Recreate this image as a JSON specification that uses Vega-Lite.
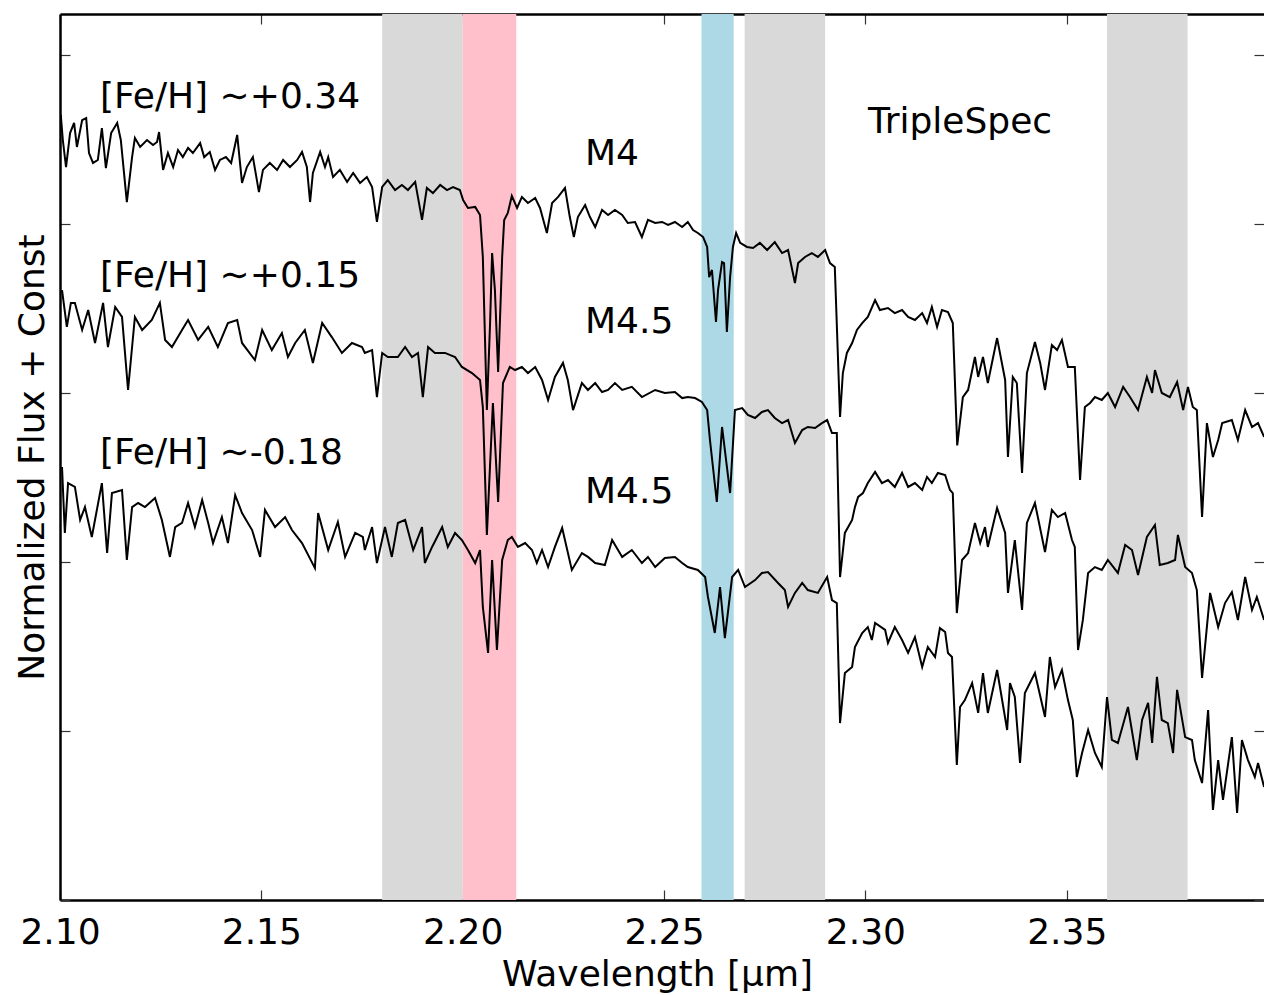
{
"$schema": "https://vega.github.io/schema/vega-lite/v6.json",
"width": 1204, "height": 886,
"autosize": "none",
"padding": {"left": 60, "top": 14, "right": 0, "bottom": 95},
"background": "white",
"config": {"font": "DejaVu Sans", "view": {"stroke": null},
 "axis": {"grid": false, "domainColor": "black", "domainWidth": 2.5, "tickColor": "#333333", "tickWidth": 1.2, "tickSize": -10, "labelFlush": false,
  "labelFont": "DejaVu Sans", "titleFont": "DejaVu Sans", "labelFontSize": 36, "titleFontSize": 36, "labelColor": "black", "titleColor": "black", "titleFontWeight": "normal"}},
"datasets": {
"bands": [
 {"kind": "telluric", "x0": 2.18, "x1": 2.20},
 {"kind": "Na", "x0": 2.20, "x1": 2.2133},
 {"kind": "Ca", "x0": 2.2593, "x1": 2.2673},
 {"kind": "telluric", "x0": 2.27, "x1": 2.29},
 {"kind": "telluric", "x0": 2.36, "x1": 2.38}
],
"notes": [
 {"t": "[Fe/H] ∼+0.34", "x": 2.10993, "y": 4.686},
 {"t": "[Fe/H] ∼+0.15", "x": 2.10993, "y": 3.627},
 {"t": "[Fe/H] ∼-0.18", "x": 2.10993, "y": 2.580},
 {"t": "M4", "x": 2.23037, "y": 4.349},
 {"t": "M4.5", "x": 2.23037, "y": 3.355},
 {"t": "M4.5", "x": 2.23037, "y": 2.349},
 {"t": "TripleSpec", "x": 2.30064, "y": 4.538}
],
"spec": [
{"s":"a","x":2.1002,"y":4.645},{"s":"a","x":2.1007,"y":4.497},{"s":"a","x":2.1015,"y":4.337},{"s":"a","x":2.1025,"y":4.538},{"s":"a","x":2.1035,"y":4.598},{"s":"a","x":2.1042,"y":4.456},{"s":"a","x":2.1055,"y":4.615},{"s":"a","x":2.1065,"y":4.627},{"s":"a","x":2.1072,"y":4.420},{"s":"a","x":2.1082,"y":4.361},{"s":"a","x":2.1094,"y":4.379},{"s":"a","x":2.1104,"y":4.568},{"s":"a","x":2.1114,"y":4.331},{"s":"a","x":2.1127,"y":4.538},{"s":"a","x":2.1142,"y":4.598},{"s":"a","x":2.1151,"y":4.497},{"s":"a","x":2.1166,"y":4.130},{"s":"a","x":2.1179,"y":4.396},{"s":"a","x":2.1186,"y":4.509},{"s":"a","x":2.1199,"y":4.456},{"s":"a","x":2.1216,"y":4.497},{"s":"a","x":2.1231,"y":4.467},{"s":"a","x":2.1241,"y":4.485},{"s":"a","x":2.1246,"y":4.544},{"s":"a","x":2.1256,"y":4.320},{"s":"a","x":2.1268,"y":4.420},{"s":"a","x":2.1281,"y":4.337},{"s":"a","x":2.1293,"y":4.438},{"s":"a","x":2.1305,"y":4.396},{"s":"a","x":2.1318,"y":4.450},{"s":"a","x":2.1330,"y":4.420},{"s":"a","x":2.1348,"y":4.479},{"s":"a","x":2.1358,"y":4.396},{"s":"a","x":2.1372,"y":4.426},{"s":"a","x":2.1385,"y":4.320},{"s":"a","x":2.1397,"y":4.379},{"s":"a","x":2.1412,"y":4.396},{"s":"a","x":2.1425,"y":4.361},{"s":"a","x":2.1440,"y":4.527},{"s":"a","x":2.1452,"y":4.243},{"s":"a","x":2.1464,"y":4.337},{"s":"a","x":2.1479,"y":4.396},{"s":"a","x":2.1494,"y":4.189},{"s":"a","x":2.1504,"y":4.320},{"s":"a","x":2.1521,"y":4.361},{"s":"a","x":2.1539,"y":4.320},{"s":"a","x":2.1554,"y":4.379},{"s":"a","x":2.1571,"y":4.337},{"s":"a","x":2.1589,"y":4.379},{"s":"a","x":2.1601,"y":4.426},{"s":"a","x":2.1613,"y":4.337},{"s":"a","x":2.1621,"y":4.130},{"s":"a","x":2.1628,"y":4.302},{"s":"a","x":2.1646,"y":4.426},{"s":"a","x":2.1658,"y":4.337},{"s":"a","x":2.1666,"y":4.396},{"s":"a","x":2.1678,"y":4.278},{"s":"a","x":2.1695,"y":4.320},{"s":"a","x":2.1713,"y":4.249},{"s":"a","x":2.1728,"y":4.302},{"s":"a","x":2.1745,"y":4.243},{"s":"a","x":2.1762,"y":4.278},{"s":"a","x":2.1775,"y":4.219},{"s":"a","x":2.1787,"y":4.012},{"s":"a","x":2.1800,"y":4.219},{"s":"a","x":2.1814,"y":4.260},{"s":"a","x":2.1832,"y":4.201},{"s":"a","x":2.1849,"y":4.231},{"s":"a","x":2.1864,"y":4.201},{"s":"a","x":2.1882,"y":4.249},{"s":"a","x":2.1899,"y":4.024},{"s":"a","x":2.1911,"y":4.213},{"s":"a","x":2.1926,"y":4.183},{"s":"a","x":2.1944,"y":4.231},{"s":"a","x":2.1961,"y":4.201},{"s":"a","x":2.1976,"y":4.219},{"s":"a","x":2.1993,"y":4.201},{"s":"a","x":2.2001,"y":4.142},{"s":"a","x":2.2013,"y":4.095},{"s":"a","x":2.2031,"y":4.101},{"s":"a","x":2.2043,"y":4.053},{"s":"a","x":2.2050,"y":3.805},{"s":"a","x":2.2060,"y":2.899},{"s":"a","x":2.2068,"y":3.414},{"s":"a","x":2.2073,"y":3.828},{"s":"a","x":2.2080,"y":3.609},{"s":"a","x":2.2088,"y":3.124},{"s":"a","x":2.2098,"y":3.805},{"s":"a","x":2.2103,"y":4.024},{"s":"a","x":2.2112,"y":4.065},{"s":"a","x":2.2122,"y":4.166},{"s":"a","x":2.2135,"y":4.095},{"s":"a","x":2.2147,"y":4.160},{"s":"a","x":2.2162,"y":4.124},{"s":"a","x":2.2180,"y":4.154},{"s":"a","x":2.2192,"y":4.095},{"s":"a","x":2.2209,"y":3.947},{"s":"a","x":2.2222,"y":4.124},{"s":"a","x":2.2237,"y":4.160},{"s":"a","x":2.2254,"y":4.213},{"s":"a","x":2.2266,"y":4.041},{"s":"a","x":2.2276,"y":3.923},{"s":"a","x":2.2286,"y":4.041},{"s":"a","x":2.2304,"y":4.112},{"s":"a","x":2.2316,"y":4.041},{"s":"a","x":2.2329,"y":3.982},{"s":"a","x":2.2346,"y":4.083},{"s":"a","x":2.2361,"y":4.053},{"s":"a","x":2.2378,"y":4.083},{"s":"a","x":2.2396,"y":4.053},{"s":"a","x":2.2410,"y":4.006},{"s":"a","x":2.2428,"y":4.012},{"s":"a","x":2.2445,"y":3.923},{"s":"a","x":2.2460,"y":4.024},{"s":"a","x":2.2478,"y":4.006},{"s":"a","x":2.2495,"y":4.012},{"s":"a","x":2.2510,"y":3.994},{"s":"a","x":2.2527,"y":4.012},{"s":"a","x":2.2545,"y":3.982},{"s":"a","x":2.2559,"y":4.012},{"s":"a","x":2.2572,"y":3.964},{"s":"a","x":2.2584,"y":3.947},{"s":"a","x":2.2597,"y":3.923},{"s":"a","x":2.2607,"y":3.864},{"s":"a","x":2.2612,"y":3.686},{"s":"a","x":2.2619,"y":3.728},{"s":"a","x":2.2629,"y":3.420},{"s":"a","x":2.2634,"y":3.609},{"s":"a","x":2.2644,"y":3.775},{"s":"a","x":2.2649,"y":3.769},{"s":"a","x":2.2656,"y":3.361},{"s":"a","x":2.2664,"y":3.686},{"s":"a","x":2.2671,"y":3.864},{"s":"a","x":2.2679,"y":3.947},{"s":"a","x":2.2689,"y":3.888},{"s":"a","x":2.2706,"y":3.864},{"s":"a","x":2.2721,"y":3.858},{"s":"a","x":2.2738,"y":3.888},{"s":"a","x":2.2756,"y":3.846},{"s":"a","x":2.2775,"y":3.893},{"s":"a","x":2.2793,"y":3.828},{"s":"a","x":2.2808,"y":3.846},{"s":"a","x":2.2825,"y":3.651},{"s":"a","x":2.2833,"y":3.769},{"s":"a","x":2.2850,"y":3.805},{"s":"a","x":2.2867,"y":3.828},{"s":"a","x":2.2882,"y":3.805},{"s":"a","x":2.2900,"y":3.846},{"s":"a","x":2.2912,"y":3.769},{"s":"a","x":2.2924,"y":3.746},{"s":"a","x":2.2937,"y":2.858},{"s":"a","x":2.2944,"y":3.118},{"s":"a","x":2.2954,"y":3.237},{"s":"a","x":2.2967,"y":3.296},{"s":"a","x":2.2979,"y":3.373},{"s":"a","x":2.2992,"y":3.414},{"s":"a","x":2.3006,"y":3.450},{"s":"a","x":2.3024,"y":3.550},{"s":"a","x":2.3036,"y":3.491},{"s":"a","x":2.3056,"y":3.503},{"s":"a","x":2.3073,"y":3.473},{"s":"a","x":2.3091,"y":3.491},{"s":"a","x":2.3106,"y":3.450},{"s":"a","x":2.3123,"y":3.432},{"s":"a","x":2.3141,"y":3.473},{"s":"a","x":2.3153,"y":3.414},{"s":"a","x":2.3165,"y":3.509},{"s":"a","x":2.3178,"y":3.391},{"s":"a","x":2.3190,"y":3.491},{"s":"a","x":2.3205,"y":3.479},{"s":"a","x":2.3217,"y":3.414},{"s":"a","x":2.3228,"y":2.690},{"s":"a","x":2.3242,"y":2.976},{"s":"a","x":2.3255,"y":3.018},{"s":"a","x":2.3272,"y":3.213},{"s":"a","x":2.3280,"y":3.095},{"s":"a","x":2.3292,"y":3.213},{"s":"a","x":2.3304,"y":3.059},{"s":"a","x":2.3327,"y":3.325},{"s":"a","x":2.3347,"y":3.077},{"s":"a","x":2.3354,"y":2.621},{"s":"a","x":2.3366,"y":3.095},{"s":"a","x":2.3376,"y":3.059},{"s":"a","x":2.3389,"y":2.527},{"s":"a","x":2.3401,"y":3.118},{"s":"a","x":2.3421,"y":3.302},{"s":"a","x":2.3434,"y":3.178},{"s":"a","x":2.3446,"y":3.018},{"s":"a","x":2.3463,"y":3.284},{"s":"a","x":2.3476,"y":3.254},{"s":"a","x":2.3488,"y":3.314},{"s":"a","x":2.3503,"y":3.154},{"s":"a","x":2.3520,"y":3.154},{"s":"a","x":2.3533,"y":2.485},{"s":"a","x":2.3545,"y":2.917},{"s":"a","x":2.3558,"y":2.941},{"s":"a","x":2.3570,"y":2.976},{"s":"a","x":2.3587,"y":2.959},{"s":"a","x":2.3602,"y":3.000},{"s":"a","x":2.3620,"y":2.917},{"s":"a","x":2.3640,"y":3.036},{"s":"a","x":2.3657,"y":2.976},{"s":"a","x":2.3677,"y":2.899},{"s":"a","x":2.3699,"y":3.095},{"s":"a","x":2.3712,"y":3.000},{"s":"a","x":2.3719,"y":3.136},{"s":"a","x":2.3736,"y":3.000},{"s":"a","x":2.3756,"y":2.976},{"s":"a","x":2.3774,"y":3.065},{"s":"a","x":2.3789,"y":2.899},{"s":"a","x":2.3801,"y":3.036},{"s":"a","x":2.3813,"y":2.917},{"s":"a","x":2.3823,"y":2.899},{"s":"a","x":2.3836,"y":2.266},{"s":"a","x":2.3848,"y":2.822},{"s":"a","x":2.3863,"y":2.621},{"s":"a","x":2.3876,"y":2.722},{"s":"a","x":2.3886,"y":2.822},{"s":"a","x":2.3910,"y":2.840},{"s":"a","x":2.3925,"y":2.722},{"s":"a","x":2.3943,"y":2.899},{"s":"a","x":2.3960,"y":2.799},{"s":"a","x":2.3975,"y":2.822},{"s":"a","x":2.3990,"y":2.740},
{"s":"b","x":2.1005,"y":3.609},{"s":"b","x":2.1017,"y":3.391},{"s":"b","x":2.1027,"y":3.533},{"s":"b","x":2.1037,"y":3.533},{"s":"b","x":2.1055,"y":3.373},{"s":"b","x":2.1070,"y":3.491},{"s":"b","x":2.1087,"y":3.296},{"s":"b","x":2.1107,"y":3.533},{"s":"b","x":2.1119,"y":3.272},{"s":"b","x":2.1137,"y":3.509},{"s":"b","x":2.1154,"y":3.450},{"s":"b","x":2.1169,"y":3.018},{"s":"b","x":2.1186,"y":3.450},{"s":"b","x":2.1204,"y":3.373},{"s":"b","x":2.1228,"y":3.432},{"s":"b","x":2.1248,"y":3.533},{"s":"b","x":2.1261,"y":3.314},{"s":"b","x":2.1278,"y":3.272},{"s":"b","x":2.1303,"y":3.373},{"s":"b","x":2.1318,"y":3.432},{"s":"b","x":2.1343,"y":3.314},{"s":"b","x":2.1368,"y":3.391},{"s":"b","x":2.1392,"y":3.272},{"s":"b","x":2.1417,"y":3.414},{"s":"b","x":2.1440,"y":3.432},{"s":"b","x":2.1452,"y":3.296},{"s":"b","x":2.1484,"y":3.195},{"s":"b","x":2.1502,"y":3.373},{"s":"b","x":2.1526,"y":3.254},{"s":"b","x":2.1551,"y":3.355},{"s":"b","x":2.1566,"y":3.213},{"s":"b","x":2.1584,"y":3.296},{"s":"b","x":2.1608,"y":3.373},{"s":"b","x":2.1628,"y":3.178},{"s":"b","x":2.1651,"y":3.414},{"s":"b","x":2.1675,"y":3.331},{"s":"b","x":2.1700,"y":3.237},{"s":"b","x":2.1725,"y":3.296},{"s":"b","x":2.1750,"y":3.272},{"s":"b","x":2.1757,"y":3.237},{"s":"b","x":2.1775,"y":3.254},{"s":"b","x":2.1787,"y":2.976},{"s":"b","x":2.1800,"y":3.237},{"s":"b","x":2.1814,"y":3.213},{"s":"b","x":2.1839,"y":3.213},{"s":"b","x":2.1857,"y":3.272},{"s":"b","x":2.1874,"y":3.213},{"s":"b","x":2.1889,"y":3.237},{"s":"b","x":2.1901,"y":2.976},{"s":"b","x":2.1914,"y":3.272},{"s":"b","x":2.1931,"y":3.237},{"s":"b","x":2.1956,"y":3.237},{"s":"b","x":2.1981,"y":3.213},{"s":"b","x":2.1998,"y":3.154},{"s":"b","x":2.2023,"y":3.118},{"s":"b","x":2.2043,"y":3.077},{"s":"b","x":2.2050,"y":2.917},{"s":"b","x":2.2060,"y":2.160},{"s":"b","x":2.2075,"y":2.941},{"s":"b","x":2.2088,"y":2.355},{"s":"b","x":2.2100,"y":3.059},{"s":"b","x":2.2117,"y":3.154},{"s":"b","x":2.2130,"y":3.136},{"s":"b","x":2.2147,"y":3.154},{"s":"b","x":2.2162,"y":3.118},{"s":"b","x":2.2180,"y":3.154},{"s":"b","x":2.2197,"y":3.077},{"s":"b","x":2.2212,"y":2.959},{"s":"b","x":2.2229,"y":3.095},{"s":"b","x":2.2249,"y":3.178},{"s":"b","x":2.2261,"y":3.077},{"s":"b","x":2.2274,"y":2.899},{"s":"b","x":2.2296,"y":3.059},{"s":"b","x":2.2311,"y":3.018},{"s":"b","x":2.2329,"y":3.059},{"s":"b","x":2.2346,"y":3.006},{"s":"b","x":2.2361,"y":3.018},{"s":"b","x":2.2378,"y":3.059},{"s":"b","x":2.2396,"y":3.018},{"s":"b","x":2.2420,"y":3.036},{"s":"b","x":2.2445,"y":2.976},{"s":"b","x":2.2478,"y":3.018},{"s":"b","x":2.2502,"y":3.000},{"s":"b","x":2.2527,"y":3.006},{"s":"b","x":2.2545,"y":2.970},{"s":"b","x":2.2559,"y":2.976},{"s":"b","x":2.2577,"y":2.970},{"s":"b","x":2.2594,"y":2.947},{"s":"b","x":2.2607,"y":2.899},{"s":"b","x":2.2614,"y":2.722},{"s":"b","x":2.2631,"y":2.355},{"s":"b","x":2.2644,"y":2.799},{"s":"b","x":2.2664,"y":2.408},{"s":"b","x":2.2676,"y":2.899},{"s":"b","x":2.2694,"y":2.911},{"s":"b","x":2.2708,"y":2.870},{"s":"b","x":2.2726,"y":2.852},{"s":"b","x":2.2743,"y":2.888},{"s":"b","x":2.2758,"y":2.899},{"s":"b","x":2.2775,"y":2.852},{"s":"b","x":2.2793,"y":2.822},{"s":"b","x":2.2808,"y":2.840},{"s":"b","x":2.2825,"y":2.704},{"s":"b","x":2.2843,"y":2.781},{"s":"b","x":2.2857,"y":2.799},{"s":"b","x":2.2875,"y":2.793},{"s":"b","x":2.2892,"y":2.822},{"s":"b","x":2.2905,"y":2.840},{"s":"b","x":2.2917,"y":2.763},{"s":"b","x":2.2929,"y":2.763},{"s":"b","x":2.2937,"y":1.911},{"s":"b","x":2.2949,"y":2.172},{"s":"b","x":2.2967,"y":2.249},{"s":"b","x":2.2974,"y":2.325},{"s":"b","x":2.2982,"y":2.385},{"s":"b","x":2.2994,"y":2.408},{"s":"b","x":2.3006,"y":2.467},{"s":"b","x":2.3024,"y":2.533},{"s":"b","x":2.3041,"y":2.467},{"s":"b","x":2.3056,"y":2.485},{"s":"b","x":2.3073,"y":2.444},{"s":"b","x":2.3091,"y":2.527},{"s":"b","x":2.3106,"y":2.444},{"s":"b","x":2.3123,"y":2.467},{"s":"b","x":2.3141,"y":2.426},{"s":"b","x":2.3153,"y":2.503},{"s":"b","x":2.3165,"y":2.467},{"s":"b","x":2.3180,"y":2.527},{"s":"b","x":2.3198,"y":2.515},{"s":"b","x":2.3210,"y":2.426},{"s":"b","x":2.3217,"y":2.408},{"s":"b","x":2.3227,"y":1.698},{"s":"b","x":2.3240,"y":2.012},{"s":"b","x":2.3255,"y":2.053},{"s":"b","x":2.3272,"y":2.231},{"s":"b","x":2.3285,"y":2.112},{"s":"b","x":2.3297,"y":2.207},{"s":"b","x":2.3304,"y":2.089},{"s":"b","x":2.3327,"y":2.320},{"s":"b","x":2.3347,"y":2.172},{"s":"b","x":2.3354,"y":1.817},{"s":"b","x":2.3371,"y":2.130},{"s":"b","x":2.3389,"y":1.716},{"s":"b","x":2.3401,"y":2.231},{"s":"b","x":2.3421,"y":2.349},{"s":"b","x":2.3446,"y":2.059},{"s":"b","x":2.3463,"y":2.308},{"s":"b","x":2.3478,"y":2.266},{"s":"b","x":2.3496,"y":2.290},{"s":"b","x":2.3513,"y":2.130},{"s":"b","x":2.3520,"y":2.089},{"s":"b","x":2.3528,"y":1.479},{"s":"b","x":2.3540,"y":1.657},{"s":"b","x":2.3553,"y":1.935},{"s":"b","x":2.3570,"y":1.970},{"s":"b","x":2.3587,"y":1.953},{"s":"b","x":2.3602,"y":2.012},{"s":"b","x":2.3627,"y":1.935},{"s":"b","x":2.3645,"y":2.101},{"s":"b","x":2.3662,"y":2.071},{"s":"b","x":2.3677,"y":1.923},{"s":"b","x":2.3699,"y":2.148},{"s":"b","x":2.3719,"y":2.219},{"s":"b","x":2.3731,"y":1.982},{"s":"b","x":2.3751,"y":1.994},{"s":"b","x":2.3769,"y":2.012},{"s":"b","x":2.3776,"y":2.160},{"s":"b","x":2.3794,"y":1.970},{"s":"b","x":2.3811,"y":1.935},{"s":"b","x":2.3823,"y":1.834},{"s":"b","x":2.3836,"y":1.314},{"s":"b","x":2.3856,"y":1.817},{"s":"b","x":2.3876,"y":1.615},{"s":"b","x":2.3893,"y":1.757},{"s":"b","x":2.3910,"y":1.822},{"s":"b","x":2.3925,"y":1.657},{"s":"b","x":2.3943,"y":1.911},{"s":"b","x":2.3960,"y":1.716},{"s":"b","x":2.3972,"y":1.793},{"s":"b","x":2.3990,"y":1.657},
{"s":"c","x":2.1005,"y":2.562},{"s":"c","x":2.1012,"y":2.172},{"s":"c","x":2.1020,"y":2.467},{"s":"c","x":2.1037,"y":2.444},{"s":"c","x":2.1050,"y":2.249},{"s":"c","x":2.1062,"y":2.325},{"s":"c","x":2.1079,"y":2.148},{"s":"c","x":2.1104,"y":2.467},{"s":"c","x":2.1117,"y":2.053},{"s":"c","x":2.1129,"y":2.408},{"s":"c","x":2.1154,"y":2.426},{"s":"c","x":2.1166,"y":2.012},{"s":"c","x":2.1179,"y":2.325},{"s":"c","x":2.1194,"y":2.349},{"s":"c","x":2.1211,"y":2.325},{"s":"c","x":2.1236,"y":2.379},{"s":"c","x":2.1253,"y":2.249},{"s":"c","x":2.1273,"y":2.030},{"s":"c","x":2.1286,"y":2.207},{"s":"c","x":2.1303,"y":2.231},{"s":"c","x":2.1318,"y":2.349},{"s":"c","x":2.1335,"y":2.207},{"s":"c","x":2.1353,"y":2.367},{"s":"c","x":2.1368,"y":2.231},{"s":"c","x":2.1380,"y":2.112},{"s":"c","x":2.1402,"y":2.266},{"s":"c","x":2.1417,"y":2.112},{"s":"c","x":2.1435,"y":2.396},{"s":"c","x":2.1452,"y":2.290},{"s":"c","x":2.1477,"y":2.189},{"s":"c","x":2.1497,"y":2.030},{"s":"c","x":2.1509,"y":2.308},{"s":"c","x":2.1534,"y":2.207},{"s":"c","x":2.1559,"y":2.266},{"s":"c","x":2.1576,"y":2.189},{"s":"c","x":2.1601,"y":2.112},{"s":"c","x":2.1633,"y":1.964},{"s":"c","x":2.1641,"y":2.290},{"s":"c","x":2.1666,"y":2.071},{"s":"c","x":2.1690,"y":2.237},{"s":"c","x":2.1708,"y":2.030},{"s":"c","x":2.1733,"y":2.172},{"s":"c","x":2.1752,"y":2.148},{"s":"c","x":2.1757,"y":2.071},{"s":"c","x":2.1775,"y":2.207},{"s":"c","x":2.1787,"y":1.994},{"s":"c","x":2.1807,"y":2.207},{"s":"c","x":2.1824,"y":2.030},{"s":"c","x":2.1839,"y":2.231},{"s":"c","x":2.1857,"y":2.249},{"s":"c","x":2.1877,"y":2.071},{"s":"c","x":2.1899,"y":2.207},{"s":"c","x":2.1906,"y":1.994},{"s":"c","x":2.1924,"y":2.089},{"s":"c","x":2.1949,"y":2.207},{"s":"c","x":2.1963,"y":2.089},{"s":"c","x":2.1981,"y":2.172},{"s":"c","x":2.1998,"y":2.130},{"s":"c","x":2.2013,"y":2.071},{"s":"c","x":2.2031,"y":1.994},{"s":"c","x":2.2043,"y":2.071},{"s":"c","x":2.2050,"y":1.734},{"s":"c","x":2.2063,"y":1.462},{"s":"c","x":2.2073,"y":2.012},{"s":"c","x":2.2085,"y":1.479},{"s":"c","x":2.2098,"y":2.012},{"s":"c","x":2.2112,"y":2.130},{"s":"c","x":2.2122,"y":2.148},{"s":"c","x":2.2137,"y":2.089},{"s":"c","x":2.2155,"y":2.112},{"s":"c","x":2.2172,"y":2.071},{"s":"c","x":2.2184,"y":1.994},{"s":"c","x":2.2197,"y":2.071},{"s":"c","x":2.2212,"y":1.970},{"s":"c","x":2.2229,"y":2.089},{"s":"c","x":2.2247,"y":2.201},{"s":"c","x":2.2271,"y":1.953},{"s":"c","x":2.2296,"y":2.053},{"s":"c","x":2.2311,"y":2.030},{"s":"c","x":2.2329,"y":1.994},{"s":"c","x":2.2353,"y":1.982},{"s":"c","x":2.2371,"y":2.130},{"s":"c","x":2.2396,"y":2.030},{"s":"c","x":2.2420,"y":2.071},{"s":"c","x":2.2445,"y":1.994},{"s":"c","x":2.2460,"y":2.030},{"s":"c","x":2.2478,"y":1.970},{"s":"c","x":2.2502,"y":2.024},{"s":"c","x":2.2527,"y":2.030},{"s":"c","x":2.2545,"y":1.994},{"s":"c","x":2.2559,"y":1.970},{"s":"c","x":2.2584,"y":1.953},{"s":"c","x":2.2602,"y":1.911},{"s":"c","x":2.2609,"y":1.793},{"s":"c","x":2.2626,"y":1.580},{"s":"c","x":2.2639,"y":1.852},{"s":"c","x":2.2651,"y":1.550},{"s":"c","x":2.2669,"y":1.911},{"s":"c","x":2.2684,"y":1.953},{"s":"c","x":2.2701,"y":1.852},{"s":"c","x":2.2726,"y":1.893},{"s":"c","x":2.2743,"y":1.935},{"s":"c","x":2.2758,"y":1.941},{"s":"c","x":2.2783,"y":1.876},{"s":"c","x":2.2800,"y":1.834},{"s":"c","x":2.2808,"y":1.734},{"s":"c","x":2.2825,"y":1.817},{"s":"c","x":2.2843,"y":1.876},{"s":"c","x":2.2857,"y":1.834},{"s":"c","x":2.2882,"y":1.817},{"s":"c","x":2.2905,"y":1.911},{"s":"c","x":2.2917,"y":1.775},{"s":"c","x":2.2929,"y":1.757},{"s":"c","x":2.2937,"y":1.047},{"s":"c","x":2.2949,"y":1.343},{"s":"c","x":2.2967,"y":1.379},{"s":"c","x":2.2974,"y":1.497},{"s":"c","x":2.2992,"y":1.580},{"s":"c","x":2.3006,"y":1.615},{"s":"c","x":2.3016,"y":1.538},{"s":"c","x":2.3024,"y":1.639},{"s":"c","x":2.3049,"y":1.598},{"s":"c","x":2.3056,"y":1.521},{"s":"c","x":2.3073,"y":1.615},{"s":"c","x":2.3091,"y":1.538},{"s":"c","x":2.3106,"y":1.462},{"s":"c","x":2.3123,"y":1.556},{"s":"c","x":2.3141,"y":1.379},{"s":"c","x":2.3155,"y":1.497},{"s":"c","x":2.3173,"y":1.438},{"s":"c","x":2.3185,"y":1.609},{"s":"c","x":2.3198,"y":1.586},{"s":"c","x":2.3205,"y":1.462},{"s":"c","x":2.3215,"y":1.438},{"s":"c","x":2.3227,"y":0.799},{"s":"c","x":2.3235,"y":1.142},{"s":"c","x":2.3247,"y":1.183},{"s":"c","x":2.3265,"y":1.284},{"s":"c","x":2.3280,"y":1.107},{"s":"c","x":2.3292,"y":1.343},{"s":"c","x":2.3304,"y":1.107},{"s":"c","x":2.3327,"y":1.361},{"s":"c","x":2.3352,"y":1.006},{"s":"c","x":2.3359,"y":1.284},{"s":"c","x":2.3371,"y":1.201},{"s":"c","x":2.3384,"y":0.811},{"s":"c","x":2.3396,"y":1.225},{"s":"c","x":2.3421,"y":1.343},{"s":"c","x":2.3446,"y":1.083},{"s":"c","x":2.3458,"y":1.438},{"s":"c","x":2.3471,"y":1.260},{"s":"c","x":2.3488,"y":1.361},{"s":"c","x":2.3503,"y":1.183},{"s":"c","x":2.3515,"y":1.065},{"s":"c","x":2.3525,"y":0.728},{"s":"c","x":2.3538,"y":0.870},{"s":"c","x":2.3553,"y":1.006},{"s":"c","x":2.3570,"y":0.870},{"s":"c","x":2.3587,"y":0.787},{"s":"c","x":2.3600,"y":1.201},{"s":"c","x":2.3612,"y":0.947},{"s":"c","x":2.3627,"y":0.929},{"s":"c","x":2.3652,"y":1.142},{"s":"c","x":2.3674,"y":0.828},{"s":"c","x":2.3687,"y":1.065},{"s":"c","x":2.3702,"y":1.166},{"s":"c","x":2.3712,"y":0.929},{"s":"c","x":2.3724,"y":1.320},{"s":"c","x":2.3736,"y":1.065},{"s":"c","x":2.3751,"y":1.047},{"s":"c","x":2.3764,"y":0.870},{"s":"c","x":2.3774,"y":1.243},{"s":"c","x":2.3794,"y":0.964},{"s":"c","x":2.3811,"y":0.947},{"s":"c","x":2.3818,"y":0.828},{"s":"c","x":2.3836,"y":0.692},{"s":"c","x":2.3851,"y":1.124},{"s":"c","x":2.3863,"y":0.533},{"s":"c","x":2.3876,"y":0.828},{"s":"c","x":2.3888,"y":0.592},{"s":"c","x":2.3910,"y":0.964},{"s":"c","x":2.3923,"y":0.515},{"s":"c","x":2.3935,"y":0.947},{"s":"c","x":2.3950,"y":0.828},{"s":"c","x":2.3967,"y":0.728},{"s":"c","x":2.3975,"y":0.811},{"s":"c","x":2.3990,"y":0.669}
]
},
"layer": [
 {"data": {"name": "bands"},
  "mark": {"type": "rect"},
  "encoding": {
   "x": {"field": "x0", "type": "quantitative", "scale": {"domain": [2.1, 2.39898], "nice": false, "zero": false},
         "axis": {"orient": "bottom", "values": [2.1, 2.15, 2.2, 2.25, 2.3, 2.35], "format": ".2f", "title": "Wavelength [μm]", "labelPadding": 25, "labelFlush": false, "titleX": 597, "titleY": 85, "titleBaseline": "alphabetic", "titleAlign": "center"}},
   "x2": {"field": "x1"},
   "color": {"field": "kind", "type": "nominal", "legend": null, "scale": {"domain": ["telluric", "Na", "Ca"], "range": ["#d9d9d9", "#ffc0cb", "#add8e6"]}}
  }},
 {"data": {"name": "spec"},
  "mark": {"type": "line", "color": "black", "strokeWidth": 2, "clip": true},
  "encoding": {
   "x": {"field": "x", "type": "quantitative", "scale": {"domain": [2.1, 2.39898], "nice": false, "zero": false},
         "axis": {"orient": "top", "values": [2.1, 2.15, 2.2, 2.25, 2.3, 2.35], "labels": false, "title": null}},
   "y": {"field": "y", "type": "quantitative", "scale": {"domain": [0, 5.2426], "nice": false, "zero": false},
         "axis": {"orient": "left", "values": [0, 1, 2, 3, 4, 5], "labels": false, "title": "Normalized Flux + Const", "titleX": -28, "titleY": 443, "titleBaseline": "middle", "titleAlign": "center", "titleAngle": -90}},
   "detail": {"field": "s", "type": "nominal"}
  }},
 {"data": {"name": "notes"},
  "mark": {"type": "text", "align": "left", "baseline": "alphabetic", "fontSize": 36, "font": "DejaVu Sans", "color": "black"},
  "encoding": {
   "x": {"field": "x", "type": "quantitative", "scale": {"domain": [2.1, 2.39898], "nice": false, "zero": false}, "axis": null},
   "y": {"field": "y", "type": "quantitative", "scale": {"domain": [0, 5.2426], "nice": false, "zero": false},
         "axis": {"orient": "right", "values": [0, 1, 2, 3, 4, 5], "labels": false, "title": null, "domain": false}},
   "text": {"field": "t"}
  }}
],
"resolve": {"axis": {"x": "independent", "y": "independent"}}
}
